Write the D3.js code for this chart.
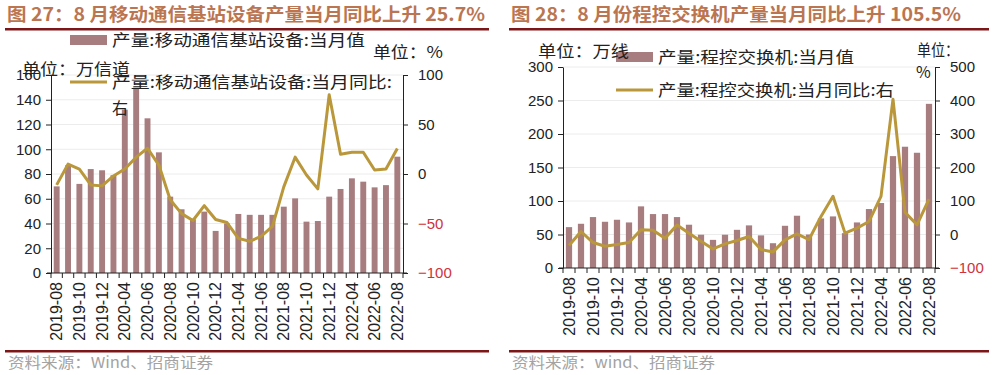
<!DOCTYPE html>
<html>
<head>
<meta charset="utf-8">
<script src="https://cdn.jsdelivr.net/npm/d3@7"></script>
<style>
  body { margin: 0; background: #fff; }
  svg { display: block; }
  .num { font-family: "Liberation Sans", Arial, sans-serif; font-size: 15px; fill: #222; }
  .cjk { font-family: "Noto Sans CJK SC", sans-serif; fill: #222; }
</style>
</head>
<body>
<svg id="chart" width="992" height="375"></svg>
<script>
// months (Jan-Feb are merged in the source data, so they are missing)
const months = [
  "2019-08", "2019-09", "2019-10", "2019-11", "2019-12",
  "2020-03", "2020-04", "2020-05", "2020-06", "2020-07", "2020-08", "2020-09", "2020-10", "2020-11", "2020-12",
  "2021-03", "2021-04", "2021-05", "2021-06", "2021-07", "2021-08", "2021-09", "2021-10", "2021-11", "2021-12",
  "2022-03", "2022-04", "2022-05", "2022-06", "2022-07", "2022-08"
];
const shownMonths = months.filter((d, i) => i % 2 === 0);

// Fig 27: mobile base station equipment
const baseStationOutput = [70, 87, 72, 84, 83, 79, 132, 150, 125, 97.5, 61.7, 51.5, 43.4, 49.6, 34, 40,
  47.7, 47, 47, 47, 53.6, 60.3, 41.5, 42, 61.7, 67.9, 76.5, 73.8, 69.2, 71, 94];
const baseStationYoY = [-11, 10, 5, -11, -12, -2, 5, 17, 26, 9, -26, -40, -47, -32, -46, -49,
  -65, -68, -63, -53, -13, 17, -1, -15, 80, 20, 22, 22, 4, 5, 25.7];
const leftTicks27 = [0, 20, 40, 60, 80, 100, 120, 140, 160];
const rightTicks27 = [-100, -50, 0, 50, 100];

// Fig 28: program-controlled switches
const switchOutput = [61, 66, 76, 69, 72, 68, 92, 80.5, 80.5, 76, 64.6, 49.7, 42, 49.7, 57, 63.6,
  48.7, 37, 63, 78, 50, 74, 77, 52, 68, 88, 97, 167, 181, 172, 245];
const switchYoY = [-33, 9, -24, -35, -30, -24, 14, 12.5, -11, 28, 4, -20, -43, -28, -18, -6,
  -45, -52, -16, 2, -15, 54, 114, 4, 19, 39, 114, 404, 66, 29, 105.5];
const leftTicks28 = [0, 50, 100, 150, 200, 250, 300];
const rightTicks28 = [-100, 0, 100, 200, 300, 400, 500];

const barColor = "#a87d80";
const lineColor = "#b9973a";
const titleColor = "#bb7550";
const ruleColor = "#7d1619";

const svg = d3.select("#chart");
svg.append("rect").attr("width", 992).attr("height", 375).attr("fill", "#fff");

function addText(x, y, str, size, opts) {
  opts = opts || {};
  let t = svg.append("text")
    .attr("class", "cjk")
    .attr("x", x)
    .attr("y", y)
    .attr("dy", "0.35em")
    .style("font-size", size + "px")
    .text(str);
  if (opts.len) t.attr("textLength", opts.len).attr("lengthAdjust", "spacingAndGlyphs");
  if (opts.fill) t.style("fill", opts.fill);
  if (opts.weight) t.style("font-weight", opts.weight);
  return t;
}

function drawPanel(cfg) {
  const g = svg.append("g");

  const x = d3.scaleBand()
    .domain(months)
    .range([cfg.x0, cfg.x1])
    .paddingInner(0.48)
    .paddingOuter(0.24);

  const yL = d3.scaleLinear().domain(cfg.leftDomain).range([cfg.y1, cfg.y0]);
  const yR = d3.scaleLinear().domain(cfg.rightDomain).range([cfg.y1, cfg.y0]);

  // faint gridlines
  g.append("g")
    .selectAll("line")
    .data(cfg.leftTicks.slice(1))
    .enter()
    .append("line")
    .attr("x1", cfg.x0).attr("x2", cfg.x1)
    .attr("y1", d => yL(d)).attr("y2", d => yL(d))
    .attr("stroke", "#ececec")
    .attr("stroke-width", 1);

  // bars
  g.append("g")
    .selectAll("rect")
    .data(cfg.bars)
    .enter()
    .append("rect")
    .attr("x", (d, i) => x(months[i]))
    .attr("width", x.bandwidth())
    .attr("y", d => yL(d))
    .attr("height", d => yL(0) - yL(d))
    .attr("fill", barColor);

  // yoy line
  const line = d3.line()
    .x((d, i) => x(months[i]) + x.bandwidth() / 2)
    .y(d => yR(d));

  g.append("path")
    .datum(cfg.line)
    .attr("d", line)
    .attr("fill", "none")
    .attr("stroke", lineColor)
    .attr("stroke-width", 3)
    .attr("stroke-linejoin", "round");

  // left axis
  const axL = g.append("g")
    .attr("transform", "translate(" + cfg.x0 + ",0)")
    .call(d3.axisLeft(yL).tickValues(cfg.leftTicks).tickSize(5).tickSizeOuter(0).tickPadding(5));
  axL.select(".domain").attr("stroke", "#222");
  axL.selectAll("line").attr("stroke", "#222");
  axL.selectAll("text").attr("class", "num").style("font-family", null).style("font-size", null)
    .attr("font-family", null).attr("font-size", null);

  // right axis
  const axR = g.append("g")
    .attr("transform", "translate(" + cfg.x1 + ",0)")
    .call(d3.axisRight(yR).tickValues(cfg.rightTicks).tickSize(5).tickSizeOuter(0).tickPadding(10));
  axR.select(".domain").attr("stroke", "#222");
  axR.selectAll("line").attr("stroke", "#222");
  axR.selectAll("text").attr("class", "num")
    .attr("font-family", null).attr("font-size", null)
    .style("fill", d => d < 0 ? "#d0333a" : "#222");

  // bottom axis: boundary ticks and rotated labels
  const axB = g.append("g").attr("transform", "translate(0," + cfg.y1 + ")");
  axB.append("line")
    .attr("x1", cfg.x0 - 4).attr("x2", cfg.x1 + 4)
    .attr("stroke", "#222");
  axB.selectAll("line.tick")
    .data(d3.range(months.length + 1))
    .enter()
    .append("line")
    .attr("class", "tick")
    .attr("x1", i => cfg.x0 + i * x.step())
    .attr("x2", i => cfg.x0 + i * x.step())
    .attr("y1", 0).attr("y2", 5)
    .attr("stroke", "#222");
  axB.selectAll("text")
    .data(shownMonths)
    .enter()
    .append("text")
    .attr("class", "num")
    .attr("transform", d => "translate(" + (x(d) + x.bandwidth() / 2) + ",9) rotate(-90)")
    .attr("text-anchor", "end")
    .attr("dy", "0.35em")
    .style("font-size", "16px")
    .text(d => d);

  // title and rules
  addText(cfg.titleX, 15, cfg.title, 18, { len: cfg.titleLen, fill: titleColor, weight: "bold" });
  svg.append("rect").attr("x", cfg.ruleX0).attr("y", 28).attr("width", cfg.ruleX1 - cfg.ruleX0)
    .attr("height", 2.5).attr("fill", ruleColor);
  svg.append("rect").attr("x", cfg.ruleX0).attr("y", 350).attr("width", cfg.ruleX1 - cfg.ruleX0)
    .attr("height", 2.5).attr("fill", ruleColor);
  addText(cfg.titleX + 1, 363, cfg.source, 15, { len: cfg.sourceLen, fill: "#a3a3a3" });

  // legend
  svg.append("rect")
    .attr("x", cfg.legX).attr("y", cfg.legY1 - 5)
    .attr("width", 37).attr("height", 10)
    .attr("fill", barColor);
  svg.append("line")
    .attr("x1", cfg.legX).attr("x2", cfg.legX + 37)
    .attr("y1", cfg.legY2).attr("y2", cfg.legY2)
    .attr("stroke", lineColor).attr("stroke-width", 3);
  addText(cfg.legX + 42, cfg.legY1, cfg.leg1, 16, { len: cfg.leg1Len });
  addText(cfg.legX + 42, cfg.legY2, cfg.leg2, 16, { len: cfg.leg2Len });
}

drawPanel({
  x0: 51, x1: 403, y0: 75, y1: 273,
  leftDomain: [0, 160], rightDomain: [-100, 100],
  leftTicks: leftTicks27, rightTicks: rightTicks27,
  bars: baseStationOutput, line: baseStationYoY,
  title: "图 27：8 月移动通信基站设备产量当月同比上升 25.7%", titleX: 7, titleLen: 478,
  ruleX0: 5, ruleX1: 489,
  source: "资料来源：Wind、招商证券", sourceLen: 205,
  legX: 70, legY1: 40, legY2: 82,
  leg1: "产量:移动通信基站设备:当月值", leg1Len: 253,
  leg2: "产量:移动通信基站设备:当月同比:", leg2Len: 280
});
addText(112, 108, "右", 16);
addText(373, 52, "单位：%", 16, { len: 70 });
addText(22, 69, "单位：万信道", 16, { len: 108 });

drawPanel({
  x0: 563, x1: 935, y0: 67, y1: 268,
  leftDomain: [0, 300], rightDomain: [-100, 500],
  leftTicks: leftTicks28, rightTicks: rightTicks28,
  bars: switchOutput, line: switchYoY,
  title: "图 28：8 月份程控交换机产量当月同比上升 105.5%", titleX: 511, titleLen: 450,
  ruleX0: 509, ruleX1: 989,
  source: "资料来源：wind、招商证券", sourceLen: 203,
  legX: 616, legY1: 57, legY2: 90,
  leg1: "产量:程控交换机:当月值", leg1Len: 196,
  leg2: "产量:程控交换机:当月同比:右", leg2Len: 236
});
addText(538, 51, "单位：万线", 16, { len: 91 });
addText(917, 50, "单位：", 16, { len: 42 });
addText(916, 72, "%", 16);
</script>
</body>
</html>
